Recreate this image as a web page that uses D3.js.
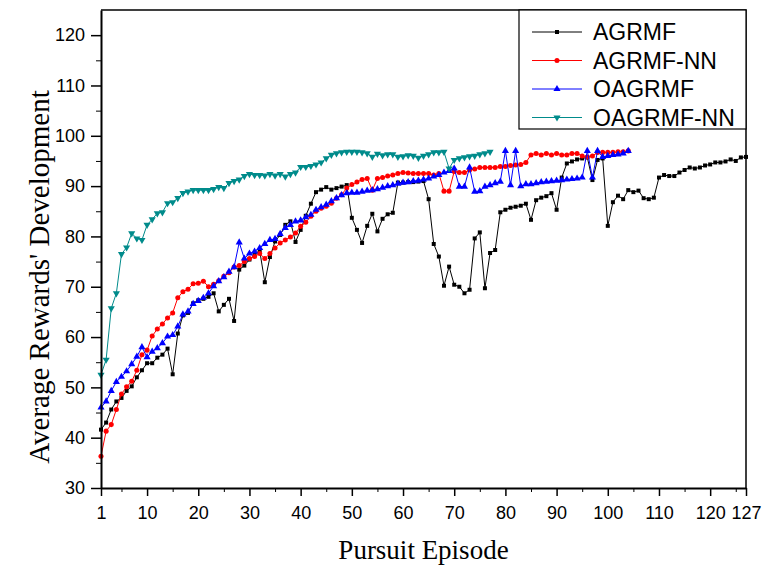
<!DOCTYPE html>
<html>
<head>
<meta charset="utf-8">
<script src="https://cdn.jsdelivr.net/npm/d3@7"></script>
<style>
  body { margin: 0; background: #fff; }
  svg { display: block; }
</style>
</head>
<body>
<script>
// values, one per episode starting at 1
const agrmf = [41.6,43.0,45.6,47.2,47.9,49.3,50.2,52.0,53.4,54.8,54.8,55.9,56.5,57.7,52.6,60.7,64.3,64.8,66.7,67.3,
  67.6,68.0,68.7,65.1,66.4,67.6,63.2,73.4,74.2,75.4,76.4,77.2,70.9,75.9,79.0,80.3,82.3,83.0,78.9,81.3,
  84.1,86.5,88.8,89.3,89.8,89.3,89.6,89.9,90.2,83.7,81.3,78.7,82.1,84.5,81.0,83.5,84.4,84.7,90.7,90.7,
  90.8,90.8,90.9,91.0,87.4,78.5,76.0,70.2,74.0,70.4,70.0,68.7,69.4,79.6,80.8,69.7,76.7,77.3,84.8,85.3,
  85.7,85.9,86.1,86.5,83.3,87.2,87.7,88.0,88.6,85.3,91.7,94.5,94.9,95.3,95.5,95.7,91.2,95.2,95.5,82.1,
  86.8,88.1,87.4,89.2,88.8,89.1,87.6,87.4,87.7,91.7,92.2,92.0,92.0,92.7,93.2,93.7,93.5,93.7,94.1,94.3,
  94.7,94.7,94.9,95.3,95.0,95.7,95.8]
const agrmfNN = [36.3,41.3,42.6,45.6,48.7,50.1,51.2,53.4,56.5,57.4,60.2,61.6,62.6,63.8,64.8,67.8,69.0,69.5,70.6,70.7,
  71.1,70.0,70.5,71.2,72.1,72.8,73.9,74.2,75.0,75.6,76.0,76.6,75.6,76.6,77.7,78.7,79.3,79.9,80.7,82.0,
  82.8,84.0,85.0,85.6,86.0,86.6,87.6,88.3,89.6,90.3,90.8,91.3,91.5,89.2,91.5,91.7,92.0,92.2,92.5,92.7,
  92.6,92.5,92.5,92.5,92.5,92.2,92.5,89.0,89.0,92.9,92.7,92.7,93.2,93.4,93.7,93.7,93.7,93.7,93.9,93.9,
  94.1,94.2,94.3,94.7,96.2,96.5,96.2,96.5,96.2,96.5,96.2,96.2,96.5,96.5,96.0,95.8,96.0,96.7,96.7,96.7,
  96.7,96.8,96.8,97.0]
const oagrmf = [46.0,47.2,49.3,51.1,52.1,53.2,54.6,56.1,58.0,56.0,57.1,57.8,58.8,60.1,60.4,62.1,64.5,65.1,66.6,67.2,
  67.8,68.7,70.1,71.1,71.9,73.0,73.9,78.8,75.6,76.6,77.0,77.7,78.5,79.3,79.5,80.5,81.7,82.3,83.0,83.2,
  83.8,84.3,85.3,85.8,86.3,87.0,87.6,88.2,88.6,88.7,88.7,88.9,89.1,89.2,89.4,89.7,90.0,90.2,90.5,90.7,
  90.8,91.0,91.1,91.3,91.5,91.9,92.2,92.7,93.0,93.5,89.9,89.9,93.7,88.9,89.0,89.9,90.2,90.6,90.9,97.0,
  90.2,97.0,90.0,90.4,90.4,90.6,90.8,90.9,91.0,91.1,91.2,91.3,91.4,91.5,91.7,97.0,91.7,97.0,95.8,96.0,
  96.2,96.3,96.5,97.0]
const oagrmfNN = [52.5,55.5,65.7,68.7,76.5,77.8,80.6,79.6,79.3,82.3,83.4,84.6,84.8,86.6,86.8,87.6,88.6,88.9,89.2,89.2,
  89.2,89.2,89.4,89.8,89.6,90.6,91.0,91.3,92.0,92.4,92.2,92.2,92.1,92.4,92.1,92.4,91.9,92.4,92.7,93.8,
  93.8,94.0,94.3,94.7,95.5,96.2,96.5,96.7,96.8,96.8,96.8,96.7,96.5,95.8,96.4,96.1,96.3,96.3,95.8,95.9,
  96.1,96.0,95.6,96.0,96.3,96.7,96.7,96.8,93.5,95.2,95.5,95.7,95.9,96.0,96.3,96.5,96.8]

const seriesNames = ['AGRMF', 'AGRMF-NN', 'OAGRMF', 'OAGRMF-NN']
const xTicks = [1, 10, 20, 30, 40, 50, 60, 70, 80, 90, 100, 110, 120, 127]
const yTicks = [30, 40, 50, 60, 70, 80, 90, 100, 110, 120]

const w = 762, h = 567
const m = { left: 101, right: 746, top: 10, bottom: 488 }

const series = [
  { name: seriesNames[0], values: agrmf, color: '#000000', symbol: d3.symbolSquare, size: 16, rot: 0 },
  { name: seriesNames[1], values: agrmfNN, color: '#ff0000', symbol: d3.symbolCircle, size: 20, rot: 0 },
  { name: seriesNames[2], values: oagrmf, color: '#0000ff', symbol: d3.symbolTriangle, size: 22, rot: 0 },
  { name: seriesNames[3], values: oagrmfNN, color: '#008b8b', symbol: d3.symbolTriangle, size: 22, rot: 180 }
]

const x = d3.scaleLinear().domain([1, 127]).range([m.left, m.right])
const y = d3.scaleLinear().domain([30, 125]).range([m.bottom, m.top])

const svg = d3.select('body').append('svg').attr('width', w).attr('height', h)

// frame top / right
svg.append('path')
  .attr('d', `M${m.left},${m.top}H${m.right}V${m.bottom}`)
  .attr('fill', 'none').attr('stroke', '#000').attr('stroke-width', 1.5)

const line = d3.line().x((d, i) => x(i + 1)).y(d => y(d))

const g = svg.append('g')
series.forEach(s => {
  g.append('path')
    .datum(s.values)
    .attr('d', line)
    .attr('fill', 'none')
    .attr('stroke', s.color)
    .attr('stroke-width', 1)
  g.selectAll(null)
    .data(s.values)
    .enter()
    .append('path')
    .attr('d', d3.symbol().type(s.symbol).size(s.size))
    .attr('transform', (d, i) => `translate(${x(i + 1)},${y(d)}) rotate(${s.rot})`)
    .attr('fill', s.color)
})

// axes
const xMinor = d3.range(5, 127, 10)
svg.append('g')
  .attr('transform', `translate(0,${m.bottom})`)
  .call(d3.axisBottom(x).tickValues(xMinor).tickSize(4).tickFormat(''))
  .call(a => a.select('.domain').remove())
const xAxis = svg.append('g')
  .attr('transform', `translate(0,${m.bottom})`)
  .call(d3.axisBottom(x).tickValues(xTicks).tickSize(8).tickSizeOuter(0).tickPadding(10).tickFormat(d3.format('d')))
xAxis.select('.domain').attr('stroke-width', 2)
xAxis.selectAll('.tick line').attr('stroke-width', 1.5)

const yMinor = d3.range(35, 125, 10)
svg.append('g')
  .attr('transform', `translate(${m.left},0)`)
  .call(d3.axisLeft(y).tickValues(yMinor).tickSize(5).tickFormat(''))
  .call(a => a.select('.domain').remove())
const yAxis = svg.append('g')
  .attr('transform', `translate(${m.left},0)`)
  .call(d3.axisLeft(y).tickValues(yTicks).tickSize(10).tickSizeOuter(0).tickPadding(6))
yAxis.select('.domain').attr('stroke-width', 2)
yAxis.selectAll('.tick line').attr('stroke-width', 1.5)

svg.selectAll('.tick text')
  .attr('font-family', 'Liberation Sans, Arial, sans-serif')
  .attr('font-size', 18)
  .attr('fill', '#000')

// axis titles
svg.append('text')
  .text('Pursuit Episode')
  .attr('x', (m.left + m.right) / 2)
  .attr('y', 559)
  .attr('text-anchor', 'middle')
  .attr('font-family', 'Liberation Serif, Times New Roman, serif')
  .attr('font-size', 27)

svg.append('text')
  .text("Average Rewards' Development")
  .attr('transform', 'translate(49,277) rotate(-90)')
  .attr('text-anchor', 'middle')
  .attr('font-family', 'Liberation Serif, Times New Roman, serif')
  .attr('font-size', 29)

// legend
const legend = svg.append('g')
legend.append('rect')
  .attr('x', 519).attr('y', m.top)
  .attr('width', m.right - 519).attr('height', 119)
  .attr('fill', '#fff').attr('stroke', '#000').attr('stroke-width', 1.2)

const row = legend.selectAll('g.row')
  .data(series)
  .enter()
  .append('g')
  .attr('class', 'row')
  .attr('transform', (d, i) => `translate(0,${32 + i * 28.5})`)
row.append('line')
  .attr('x1', 532).attr('x2', 582)
  .attr('stroke', d => d.color).attr('stroke-width', 1)
row.append('path')
  .attr('d', d => d3.symbol().type(d.symbol).size(d.size)())
  .attr('transform', d => `translate(557,0) rotate(${d.rot})`)
  .attr('fill', d => d.color)
row.append('text')
  .text(d => d.name)
  .attr('x', 593)
  .attr('y', 8)
  .attr('font-family', 'Liberation Sans, Arial, sans-serif')
  .attr('font-size', 23)
</script>
</body>
</html>
